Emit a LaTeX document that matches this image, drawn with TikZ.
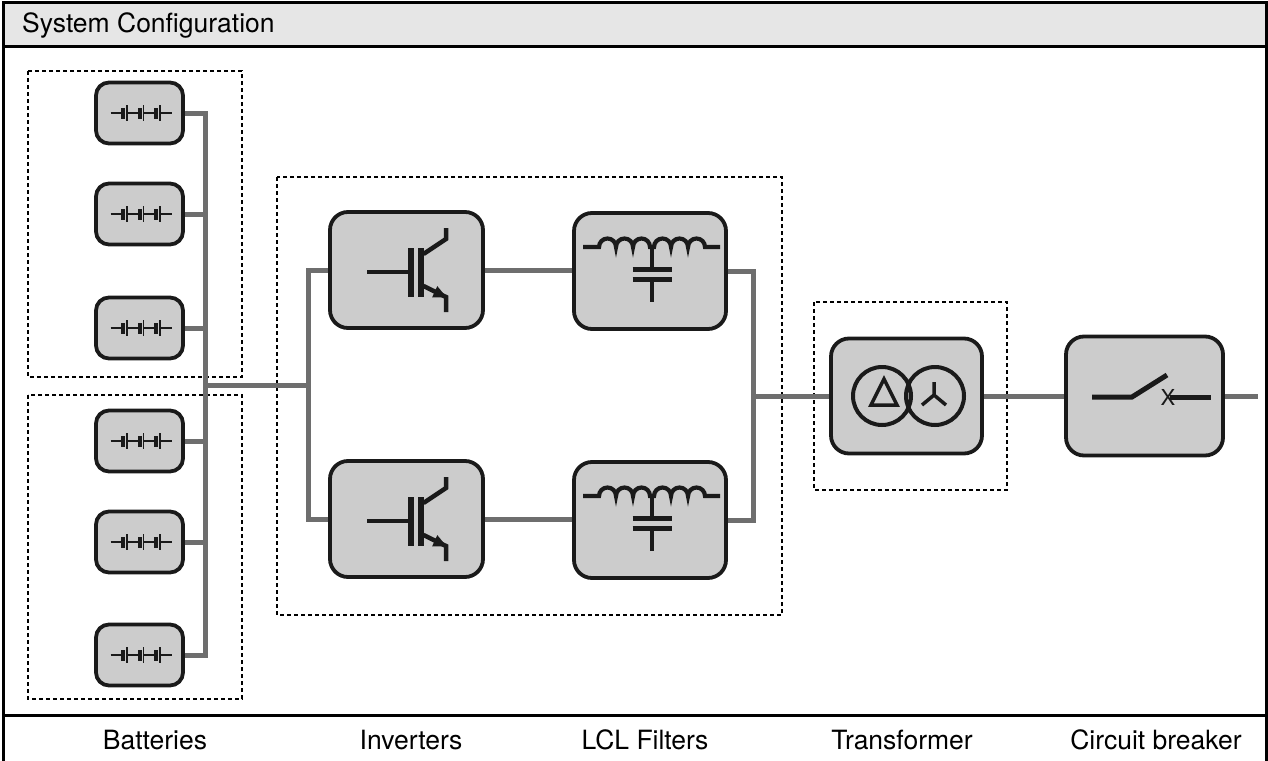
\documentclass[tikz,border=0pt]{standalone}
\usepackage{fontspec}
\setmainfont{TeX Gyre Heros}
\usetikzlibrary{arrows.meta}
\definecolor{wirec}{HTML}{6E6E6E}
\definecolor{boxfill}{HTML}{CCCCCC}
\definecolor{headfill}{HTML}{E6E6E6}
\definecolor{inkc}{HTML}{1A1A1A}
\tikzset{
  wire/.style={draw=wirec,line width=5pt},
  dev/.style={draw=inkc,line width=3.8pt,fill=boxfill,rounded corners=18pt,inner sep=0pt},
  battbox/.style={dev,minimum width=87pt,minimum height=61pt,rounded corners=13pt},
  bigbox/.style={dev,minimum width=153pt,minimum height=116pt},
  grp/.style={draw=black,line width=1.1pt,dash pattern=on 4pt off 3pt},
  sym/.style={draw=inkc,line width=4.5pt},
  lbl/.style={font=\fontsize{26.5}{31}\selectfont,inner sep=0pt},
  frame/.style={draw=black,line width=3pt},
  battsym/.pic={
    \draw[inkc,line width=1.3pt] (-29,0) -- (-16.5,0) (-12.5,0) -- (0,0) (4,0) -- (16.5,0) (20.5,0) -- (32,0);
    \fill[inkc] (-18.5,-5.5) rectangle (-14.5,5.5);
    \fill[inkc] (-2,-5.5) rectangle (2,5.5);
    \fill[inkc] (14.5,-5.5) rectangle (18.5,5.5);
    \draw[inkc,line width=1.4pt] (-12.5,-8) -- (-12.5,8) (4,-8) -- (4,8) (20.5,-8) -- (20.5,8);
  },
  igbtsym/.pic={
    \draw[sym] (-39.5,2) -- (2,2);
    \fill[inkc] (1,-22) rectangle (7.5,27);
    \fill[inkc] (11,-22) rectangle (17.5,27);
    \draw[sym,line join=miter] (17,-16) -- (39.5,-31) -- (39.5,-42);
    \draw[sym,line join=miter] (17,16) -- (39.5,27) -- (39.5,42);
    \fill[inkc] (40,27.3) -- (25.6,27.4) -- (30.8,16.1) -- cycle;
  },
  lclsym/.pic={
    \draw[sym,line width=4.2pt] (-67,-24) -- (-51,-24)
      arc[start angle=180,end angle=0,radius=8.5pt]
      arc[start angle=180,end angle=0,radius=8.5pt]
      arc[start angle=180,end angle=0,radius=8.5pt]
      -- (4,-24)
      arc[start angle=180,end angle=0,radius=8.5pt]
      arc[start angle=180,end angle=0,radius=8.5pt]
      arc[start angle=180,end angle=0,radius=8.5pt]
      -- (70,-24);
    \draw[sym] (2,-24) -- (2,-1.5) (2,8.5) -- (2,31);
    \draw[sym,line width=5pt] (-17.5,-1.5) -- (22,-1.5) (-17.5,8.5) -- (22,8.5);
  },
  xfmrsym/.pic={
    \draw[inkc,line width=4pt] (-24.5,0) circle[radius=29pt] (28.5,0) circle[radius=29pt];
    \draw[inkc,line width=3.5pt,line join=miter] (-35.5,9) -- (-9.5,9) -- (-22.5,-17) -- cycle;
    \draw[inkc,line width=3.5pt] (27.5,-1) -- (27.5,-14) (27.5,-1) -- (15.5,9) (27.5,-1) -- (39.5,9);
  },
  cbsym/.pic={
    \draw[inkc,line width=5pt] (-52.5,1) -- (-12.5,1) -- (22.5,-21);
    \draw[inkc,line width=5pt] (25.5,1) -- (66.5,1);
    \node[inkc,font=\fontsize{22}{24}\selectfont,inner sep=0pt] (cbx) at (23.5,1) {X};
  }
}
\begin{document}
\begin{tikzpicture}[x=1pt,y=-1pt]
\useasboundingbox (0,0) rectangle (1268,760);
% frame and header
\fill[headfill] (3,3) rectangle (1266,47);
\draw[frame] (3,762) -- (3,3) -- (1266,3) -- (1266,762);
\draw[frame] (3,47) -- (1266,47);
\draw[frame] (3,715) -- (1266,715);
\node[lbl,anchor=west] (title) at (22,25) {System Configuration};
% group outlines
\draw[grp] (28,71) rectangle (242,377);
\draw[grp] (28,395) rectangle (242,699);
\draw[grp] (277,177) rectangle (782,615);
\draw[grp] (814,302) rectangle (1007,490);
% junction coordinates
\coordinate (bj) at (205,385);
\coordinate (ij) at (308,385);
\coordinate (oj) at (753,396);
\coordinate (out) at (1258,396);
% batteries
\foreach \n/\y in {1/113,2/214,3/328,4/441,5/542,6/655}{
  \node[battbox] (b\n) at (139.5,\y) {};
}
% devices
\node[bigbox] (inv1) at (406.5,270) {};
\node[bigbox] (inv2) at (406.5,519) {};
\node[bigbox,minimum width=152pt] (lcl1) at (650,271) {};
\node[bigbox,minimum width=152pt] (lcl2) at (650,520) {};
\node[bigbox,minimum width=151pt,minimum height=115pt] (tr) at (906.5,396) {};
\node[bigbox,minimum width=157pt,minimum height=119pt] (cb) at (1144.5,396) {};
% wires
\foreach \n in {1,...,6}{ \draw[wire] (b\n.east) -| (bj); }
\draw[wire] (bj) -- (ij);
\draw[wire] (inv1.west) -| (ij);
\draw[wire] (inv2.west) -| (ij);
\draw[wire] (inv1.east) -- (lcl1.west |- inv1.east);
\draw[wire] (inv2.east) -- (lcl2.west |- inv2.east);
\draw[wire] (lcl1.east) -| (oj);
\draw[wire] (lcl2.east) -| (oj);
\draw[wire] (oj) -- (tr.west);
\draw[wire] (tr.east) -- (cb.west);
\draw[wire] (cb.east) -- (out);
% symbols
\foreach \n/\y in {1/113,2/214,3/328,4/441,5/542,6/655}{
  \pic at (139.5,\y) {battsym};
}
\pic at (inv1) {igbtsym};
\pic at (inv2) {igbtsym};
\pic at (lcl1) {lclsym};
\pic at (lcl2) {lclsym};
\pic at (tr) {xfmrsym};
\pic at (cb) {cbsym};
% footer labels
\node[lbl] (l1) at (155,740) {Batteries};
\node[lbl] (l2) at (411,740) {Inverters};
\node[lbl] (l3) at (645,740) {LCL Filters};
\node[lbl] (l4) at (902,740) {Transformer};
\node[lbl] (l5) at (1156,740) {Circuit breaker};
\end{tikzpicture}
\end{document}
